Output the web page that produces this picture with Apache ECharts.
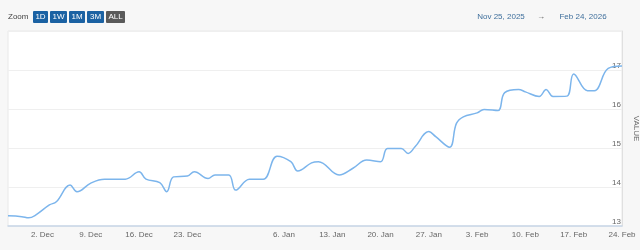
<!DOCTYPE html>
<html><head><meta charset="utf-8">
<script src="https://cdn.jsdelivr.net/npm/echarts@6/dist/echarts.min.js"></script>
<style>html,body{margin:0;padding:0;background:#f7f7f7;}#c{width:640px;height:250px;}</style>
</head><body><div id="c"></div>
<script>
const dates = ['2025-11-27','2025-11-29','2025-11-30','2025-12-01','2025-12-03','2025-12-04','2025-12-06','2025-12-07','2025-12-09','2025-12-11','2025-12-14','2025-12-16','2025-12-17','2025-12-19','2025-12-20','2025-12-21','2025-12-23','2025-12-24','2025-12-26','2025-12-27','2025-12-29','2025-12-30','2026-01-01','2026-01-03','2026-01-05','2026-01-07','2026-01-08','2026-01-10','2026-01-11','2026-01-14','2026-01-16','2026-01-18','2026-01-20','2026-01-21','2026-01-23','2026-01-24','2026-01-25','2026-01-27','2026-01-28','2026-01-30','2026-01-31','2026-02-01','2026-02-03','2026-02-04','2026-02-06','2026-02-07','2026-02-09','2026-02-10','2026-02-12','2026-02-13','2026-02-14','2026-02-16','2026-02-17','2026-02-19','2026-02-20','2026-02-22','2026-02-24'];
const values = [13.26,13.24,13.21,13.28,13.54,13.62,14.05,13.88,14.1,14.2,14.2,14.39,14.2,14.11,13.88,14.26,14.28,14.39,14.22,14.31,14.31,13.92,14.2,14.2,14.79,14.65,14.41,14.62,14.65,14.31,14.48,14.69,14.65,14.99,14.99,14.86,15.03,15.42,15.29,15.02,15.63,15.8,15.9,15.99,15.96,16.42,16.5,16.44,16.32,16.5,16.32,16.33,16.9,16.47,16.47,17.04,17.1];
const xTickDates = ['2025-12-02','2025-12-09','2025-12-16','2025-12-23','2026-01-06','2026-01-13','2026-01-20','2026-01-27','2026-02-03','2026-02-10','2026-02-17','2026-02-24'];
const xTickLabels = ['2. Dec','9. Dec','16. Dec','23. Dec','6. Jan','13. Jan','20. Jan','27. Jan','3. Feb','10. Feb','17. Feb','24. Feb'];
const yTicks = [13,14,15,16,17];
const zoomButtons = ['1D','1W','1M','3M','ALL'];
const rangeFrom = 'Nov 25, 2025', rangeTo = 'Feb 24, 2026';
const xMin = '2025-11-27', xMax = '2026-02-24';

const DAY = 86400000;
const dayNum = s => { const p = s.split('-').map(Number); return Date.UTC(p[0], p[1]-1, p[2]) / DAY; };
const tickDays = xTickDates.map(dayNum);
const labelMap = {}; tickDays.forEach((t,i)=>labelMap[t]=xTickLabels[i]);
const FONT = 'Liberation Sans, Arial, sans-serif';

const btnX = [33,50,69,87,106], btnW = [15,17,16,17,19];
const graphics = [{type:'text', left:8, top:13, style:{text:'Zoom', fill:'#444', font:'8px '+FONT}}];
zoomButtons.forEach((b,i)=>{
  graphics.push({type:'rect', shape:{x:btnX[i], y:11, width:btnW[i], height:12, r:1}, style:{fill: b==='ALL' ? '#5a5a5a' : '#1b62a3'}});
  graphics.push({type:'text', x:btnX[i]+btnW[i]/2, y:17, style:{text:b, fill:'#fff', font:'8px '+FONT, align:'center', verticalAlign:'middle'}});
});
graphics.push({type:'text', x:501, y:17, style:{text:rangeFrom, fill:'#3f6f9c', font:'8px '+FONT, align:'center', verticalAlign:'middle'}});
graphics.push({type:'text', x:541, y:17, style:{text:'\u2192', fill:'#555', font:'8px '+FONT, align:'center', verticalAlign:'middle'}});
graphics.push({type:'text', x:583, y:17, style:{text:rangeTo, fill:'#3f6f9c', font:'8px '+FONT, align:'center', verticalAlign:'middle'}});

const chart = echarts.init(document.getElementById('c'), null, {renderer:'canvas'});
chart.setOption({
  backgroundColor:'#f7f7f7',
  animation:false,
  textStyle:{fontFamily:FONT},
  graphic: graphics,
  grid:{left:8, right:18, top:31, bottom:24, show:true, backgroundColor:'#ffffff', borderColor:'#e8e8e8', borderWidth:1, containLabel:false, outerBoundsMode:'none'},
  xAxis:{
    type:'value', min:dayNum(xMin), max:dayNum(xMax),
    axisLine:{show:true, onZero:false, lineStyle:{color:'#c7d6e8', width:1.5}},
    axisTick:{show:false},
    splitLine:{show:false},
    axisLabel:{customValues:tickDays, formatter:v=>labelMap[v]||'', color:'#666', fontSize:8, margin:5, hideOverlap:false}
  },
  yAxis:{
    type:'value', position:'right', min:13, max:18, interval:1,
    name:'VALUE', nameLocation:'middle', nameRotate:-90, nameGap:4,
    nameTextStyle:{color:'#666', fontSize:8},
    axisLine:{show:true, lineStyle:{color:'#e0e0e0'}},
    axisTick:{show:false},
    splitLine:{show:true, lineStyle:{color:'#efefef'}},
    axisLabel:{inside:true, formatter:v=>yTicks.includes(v)?String(v):'', color:'#666', fontSize:8, verticalAlign:'bottom', margin:1}
  },
  series:[{
    type:'line', smooth:0.4, showSymbol:false,
    data: dates.map((d,i)=>[dayNum(d), values[i]]),
    lineStyle:{color:'#7cb5ec', width:1.5}
  }]
});
</script></body></html>
